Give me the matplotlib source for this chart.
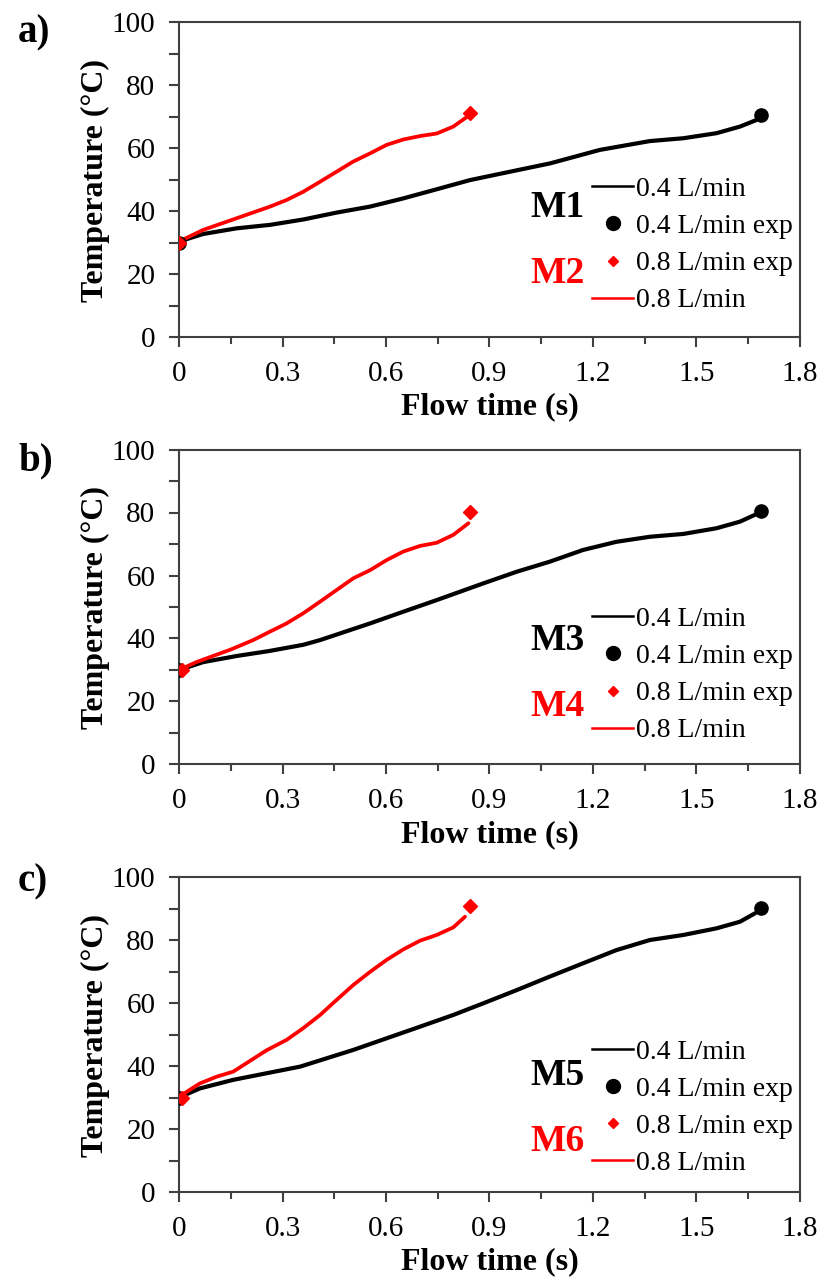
import matplotlib
matplotlib.use("Agg")
import matplotlib.pyplot as plt
from matplotlib.ticker import MultipleLocator
from matplotlib.lines import Line2D

plt.rcParams['font.family'] = ['Liberation Serif', 'DejaVu Serif']

# ---- data ----
# panel a (M1 / M2)
a_x04 = [0.0, 0.07, 0.167, 0.264, 0.36, 0.457, 0.554, 0.65, 0.747, 0.843, 0.93, 1.075, 1.22, 1.365, 1.462, 1.558, 1.626, 1.674]
a_t04 = [30.3, 32.7, 34.5, 35.6, 37.3, 39.5, 41.4, 44.0, 46.9, 49.8, 51.8, 55.1, 59.4, 62.2, 63.1, 64.7, 66.8, 68.9]
a_x08 = [0.0, 0.07, 0.167, 0.264, 0.312, 0.36, 0.409, 0.457, 0.505, 0.554, 0.602, 0.65, 0.699, 0.747, 0.795, 0.839]
a_t08 = [30.3, 34.0, 37.7, 41.4, 43.5, 46.1, 49.3, 52.5, 55.7, 58.3, 61.0, 62.7, 63.8, 64.6, 66.8, 70.2]
a_exp04_x = [0.0, 1.688]
a_exp04_t = [30.0, 70.5]
a_exp08_x = [0.0, 0.843]
a_exp08_t = [30.0, 71.0]

# panel b (M3 / M4)
b_x04 = [0.0, 0.07, 0.17, 0.26, 0.36, 0.409, 0.554, 0.65, 0.747, 0.882, 0.979, 1.075, 1.171, 1.268, 1.365, 1.462, 1.558, 1.626, 1.674]
b_t04 = [30.0, 32.5, 34.5, 36.0, 38.0, 39.5, 44.8, 48.5, 52.2, 57.5, 61.2, 64.4, 68.1, 70.7, 72.3, 73.2, 75.0, 77.1, 79.5]
b_x08 = [0.0, 0.05, 0.1, 0.15, 0.215, 0.264, 0.312, 0.36, 0.409, 0.457, 0.505, 0.554, 0.602, 0.65, 0.699, 0.747, 0.795, 0.839]
b_t08 = [30.0, 32.5, 34.5, 36.5, 39.5, 42.2, 44.8, 48.0, 51.7, 55.4, 59.1, 61.7, 64.9, 67.6, 69.4, 70.4, 72.9, 76.6]
b_exp04_x = [0.0, 1.688]
b_exp04_t = [30.0, 80.6]
b_exp08_x = [0.01, 0.843]
b_exp08_t = [30.0, 80.3]

# panel c (M5 / M6)
c_x04 = [0.0, 0.061, 0.157, 0.254, 0.351, 0.505, 0.602, 0.699, 0.795, 0.882, 0.979, 1.075, 1.171, 1.268, 1.365, 1.462, 1.558, 1.626, 1.67]
c_t04 = [30.0, 32.9, 35.6, 37.7, 39.8, 45.1, 48.8, 52.5, 56.2, 59.9, 64.1, 68.4, 72.6, 76.8, 80.0, 81.6, 83.7, 85.8, 88.5]
c_x08 = [0.0, 0.022, 0.061, 0.109, 0.157, 0.254, 0.312, 0.36, 0.409, 0.457, 0.505, 0.554, 0.602, 0.65, 0.699, 0.747, 0.795, 0.829]
c_t08 = [30.0, 31.8, 34.5, 36.6, 38.2, 45.0, 48.3, 52.0, 56.2, 61.0, 65.7, 69.9, 73.7, 77.0, 79.8, 81.6, 84.0, 87.4]
c_exp04_x = [0.0, 1.688]
c_exp04_t = [30.0, 90.1]
c_exp08_x = [0.01, 0.843]
c_exp08_t = [30.0, 90.8]

panel_letters = ['a)', 'b)', 'c)']
model_labels = [('M1', 'M2'), ('M3', 'M4'), ('M5', 'M6')]
panels = [
    (a_x04, a_t04, a_x08, a_t08, a_exp04_x, a_exp04_t, a_exp08_x, a_exp08_t),
    (b_x04, b_t04, b_x08, b_t08, b_exp04_x, b_exp04_t, b_exp08_x, b_exp08_t),
    (c_x04, c_t04, c_x08, c_t08, c_exp04_x, c_exp04_t, c_exp08_x, c_exp08_t),
]

# layout (figure fractions)
W, H = 825, 1288
ax_left, ax_w, ax_h = 179 / W, 621 / W, 315 / H
bottoms = [1 - 337 / H, 1 - 764.5 / H, 1 - 1192 / H]
letter_y = [33, 460.5, 882]
leg_y = [0.292, 0.284, 0.268]
m_y = [(0.41, 0.203), (0.395, 0.183), (0.371, 0.159)]

spine_col = '#404040'
fig = plt.figure(figsize=(W / 100, H / 100), dpi=100)

for i, (x04, t04, x08, t08, e4x, e4t, e8x, e8t) in enumerate(panels):
    ax = fig.add_axes([ax_left, bottoms[i], ax_w, ax_h])
    ax.plot(x04, t04, color='black', lw=3, solid_capstyle='round', solid_joinstyle='round', zorder=3)
    ax.plot(x08, t08, color='#ff0000', lw=2.7, solid_capstyle='round', solid_joinstyle='round', zorder=3)
    ax.plot(e4x, e4t, 'o', color='black', ms=9.5, ls='none', zorder=4)
    ax.plot(e8x, e8t, 'D', color='#ff0000', ms=7.5, ls='none', zorder=5)

    ax.set_xlim(0, 1.8)
    ax.set_ylim(0, 100)
    ax.xaxis.set_major_locator(MultipleLocator(0.3))
    ax.xaxis.set_minor_locator(MultipleLocator(0.15))
    ax.yaxis.set_major_locator(MultipleLocator(20))
    ax.yaxis.set_minor_locator(MultipleLocator(10))
    ax.xaxis.set_major_formatter(plt.FuncFormatter(lambda v, p: '0' if abs(v) < 1e-9 else f'{v:.1f}'))
    ax.tick_params(axis='both', which='both', direction='out', width=1.5, color=spine_col,
                   top=False, right=False, labelsize=21)
    ax.tick_params(axis='y', which='both', length=7, pad=10)
    ax.tick_params(axis='x', which='major', length=7, pad=10)
    ax.tick_params(axis='x', which='minor', length=5)
    for s in ax.spines.values():
        s.set_linewidth(1.5)
        s.set_color(spine_col)

    ax.set_xlabel('Flow time (s)', fontsize=23, fontweight='bold', va='center')
    ax.xaxis.set_label_coords(0.5, -0.222)
    ax.set_ylabel('Temperature (°C)', fontsize=23, fontweight='bold', va='center')
    ax.yaxis.set_label_coords(-0.135, 0.498)

    handles = [
        Line2D([], [], color='black', lw=1.8),
        Line2D([], [], marker='o', color='black', ms=10, ls='none'),
        Line2D([], [], marker='D', color='#ff0000', ms=5.5, ls='none'),
        Line2D([], [], color='#ff0000', lw=1.8),
    ]
    labels = ['0.4 L/min', '0.4 L/min exp', '0.8 L/min exp', '0.8 L/min']
    ax.legend(handles, labels, loc='center left', bbox_to_anchor=(0.665, leg_y[i]),
              frameon=False, fontsize=20, borderpad=0, borderaxespad=0,
              handlelength=1.48, handletextpad=0.12, labelspacing=0.42)

    ax.text(0.609, m_y[i][0], model_labels[i][0], transform=ax.transAxes, ha='center', va='center',
            fontsize=27, fontweight='bold', color='black')
    ax.text(0.609, m_y[i][1], model_labels[i][1], transform=ax.transAxes, ha='center', va='center',
            fontsize=27, fontweight='bold', color='#ff0000')

    fig.text(18 / W, 1 - letter_y[i] / H, panel_letters[i], ha='left', va='center',
             fontsize=28, fontweight='bold')

fig.savefig('out.png', dpi=100)
